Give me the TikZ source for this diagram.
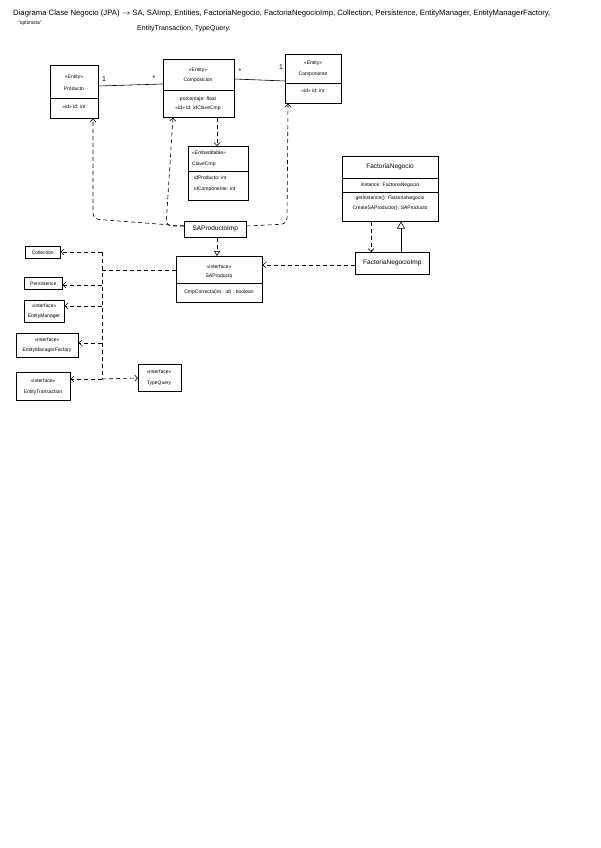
\documentclass[tikz,border=0pt]{standalone}
\usepackage{fontspec}
\setmainfont{Liberation Sans}
\usetikzlibrary{arrows.meta,calc}
\begin{document}
\begin{tikzpicture}[x=1pt,y=-1pt,
  box/.style={draw, line width=0.6pt, inner sep=0pt, anchor=north west},
  txt/.style={font=\fontsize{5}{6}\selectfont, inner sep=0pt},
  big/.style={font=\fontsize{6.5}{7.5}\selectfont, inner sep=0pt},
  mult/.style={font=\fontsize{7}{8}\selectfont, inner sep=0pt},
  ttl/.style={font=\fontsize{7.7}{9}\selectfont, inner sep=0pt, anchor=west},
  ln/.style={line width=0.6pt},
  dep/.style={line width=0.6pt, dash pattern=on 4pt off 3pt, -{Straight Barb[length=3pt,width=6pt]}},
  dsh/.style={line width=0.6pt, dash pattern=on 4pt off 3pt},
  real/.style={line width=0.6pt, dash pattern=on 4pt off 3pt, -{Triangle[open,length=5pt,width=6pt]}},
  gen/.style={line width=0.6pt, -{Triangle[open,length=7pt,width=8pt]}}]
\useasboundingbox (0,0) rectangle (600,848);

% title
\node[ttl] (t1) at (13,14) {Diagrama Clase Negocio (JPA) $\rightarrow$ SA, SAImp, Entities, FactoriaNegocio, FactoriaNegocioImp, Collection, Persistence, EntityManager, EntityManagerFactory,};
\node[ttl, font=\fontsize{7}{8}\selectfont] (t2) at (137,29) {EntityTransaction, TypeQuery.};
\node[txt, anchor=west] (t3) at (18,23) {``optimista''};

% Producto
\node[box, minimum width=48pt, minimum height=53pt] (prod) at (50,65) {};
\draw[ln] (prod.west |- 0,98) -- (prod.east |- 0,98);
\node[txt] (prodS) at (74,77) {«Entity»};
\node[txt] (prodN) at (74,89) {Producto};
\node[txt] (prodA) at (74,107) {«id» id: int};

% Composicion
\node[box, minimum width=71pt, minimum height=58pt] (compo) at (163,59) {};
\draw[ln] (compo.west |- 0,90) -- (compo.east |- 0,90);
\node[txt] (compoS) at (198,70) {«Entity»};
\node[txt] (compoN) at (198,80) {Composicion};
\node[txt] (compoA) at (198,99) {porcentaje: float};
\node[txt] (compoB) at (198,108) {«id» id: idClaveCmp};

% Componente
\node[box, minimum width=56pt, minimum height=49pt] (compte) at (285,54) {};
\draw[ln] (compte.west |- 0,83) -- (compte.east |- 0,83);
\node[txt] (compteS) at (313,63) {«Entity»};
\node[txt] (compteN) at (313,74) {Componente};
\node[txt] (compteA) at (313,91) {«id» id: int};

% associations
\draw[ln] (prod.east |- 0,86) -- (compo.west |- 0,84);
\node[mult] (m1) at (104,79) {1};
\node[mult] (m2) at (154,78) {*};
\draw[ln] (compo.east |- 0,79) -- (compte.west |- 0,81);
\node[mult] (m3) at (240,71) {*};
\node[mult] (m4) at (281,67) {1};

% ClaveCmp
\node[box, minimum width=60pt, minimum height=54pt] (clave) at (188,146) {};
\draw[ln] (clave.west |- 0,171) -- (clave.east |- 0,171);
\node[txt, anchor=west] (claveS) at (192,153) {«Embeddable»};
\node[txt, anchor=west] (claveN) at (192,164) {ClaveCmp};
\node[txt, anchor=west] (claveA) at (194,178) {idProducto: int};
\node[txt, anchor=west] (claveB) at (194,189) {idComponente: int};
\draw[dep] (compo.south -| 217,0) -- (clave.north -| 217,0);

% SAProductoImp
\node[box, minimum width=62pt, minimum height=16pt, big] (sapi) at (184,221) {SAProductoImp};
\coordinate (c1) at (93,219);
\coordinate (c2) at (166,226);
\coordinate (c3) at (287,224);
\draw[dep, rounded corners=6pt] (sapi.west |- 0,226) -- (c1) -- (prod.south -| 93,0);
\draw[dep, rounded corners=6pt] (sapi.west |- 0,226) -- (c2) -- (compo.south -| 173,0);
\draw[dep, rounded corners=6pt] (sapi.east |- 0,226) -- (c3) -- (compte.south -| 288,0);

% SAProducto
\node[box, minimum width=86pt, minimum height=46pt] (sap) at (176,256) {};
\draw[ln] (sap.west |- 0,283) -- (sap.east |- 0,283);
\node[txt] (sapS) at (219,267) {«interface»};
\node[txt] (sapN) at (219,276) {SAProducto};
\node[txt] (sapA) at (219,292) {CmpCorrecta(int : id) : boolean};
\draw[real] (sapi.south -| 217,0) -- (sap.north -| 217,0);

% FactoriaNegocio
\node[box, minimum width=96pt, minimum height=65pt] (fn) at (342,156) {};
\draw[ln] (fn.west |- 0,178) -- (fn.east |- 0,178);
\draw[ln] (fn.west |- 0,192) -- (fn.east |- 0,192);
\node[big] (fnN) at (390,167) {FactoriaNegocio};
\node[txt] (fnA) at (390,185) {instance: FactoriaNegocio};
\node[txt] (fnB) at (390,198) {getInstance(): FactoriaNegocio};
\node[txt] (fnC) at (390,208) {CreateSAProducto(): SAProducto};

% FactoriaNegocioImp
\node[box, minimum width=74pt, minimum height=22pt, big] (fni) at (355,252) {FactoriaNegocioImp};
\draw[dep] (fn.south -| 371,0) -- (fni.north -| 371,0);
\draw[gen] (fni.north -| 401,0) -- (fn.south -| 401,0);
\draw[dep] (fni.west |- 0,265) -- (sap.east |- 0,265);

% left side boxes
\node[box, minimum width=35pt, minimum height=12pt, txt] (coll) at (25,246) {Collection};
\node[box, minimum width=38pt, minimum height=12pt, txt] (pers) at (24,277) {Persistence};
\node[box, minimum width=40pt, minimum height=22pt] (em) at (24,300) {};
\node[txt] (emS) at (44,306) {«interface»};
\node[txt] (emN) at (44,316) {EntityManager};
\node[box, minimum width=62pt, minimum height=24pt] (emf) at (16,333) {};
\node[txt] (emfS) at (47,340) {«interface»};
\node[txt] (emfN) at (47,350) {EntityManagerFactory};
\node[box, minimum width=54pt, minimum height=28pt] (et) at (16,372) {};
\node[txt] (etS) at (43,381) {«interface»};
\node[txt] (etN) at (43,392) {EntityTransaction};
\node[box, minimum width=43pt, minimum height=27pt] (tq) at (138,364) {};
\node[txt] (tqS) at (159,372) {«interface»};
\node[txt] (tqN) at (159,383) {TypeQuery};

\coordinate (j0) at (102,270);
\coordinate (j1) at (102,252);
\coordinate (j2) at (102,285);
\coordinate (j3) at (102,306);
\coordinate (j4) at (102,343);
\coordinate (j5) at (102,379);
\draw[dsh] (sap.west |- 0,270) -- (j0);
\draw[dsh] (j1) -- (j5);
\draw[dep] (j1) -- (coll.east |- 0,252);
\draw[dep] (j2) -- (pers.east |- 0,285);
\draw[dep] (j3) -- (em.east |- 0,306);
\draw[dep] (j4) -- (emf.east |- 0,343);
\draw[dep] (j5) -- (et.east |- 0,379);
\draw[dep] (j5) -- (tq.west |- 0,378);
\end{tikzpicture}
\end{document}
